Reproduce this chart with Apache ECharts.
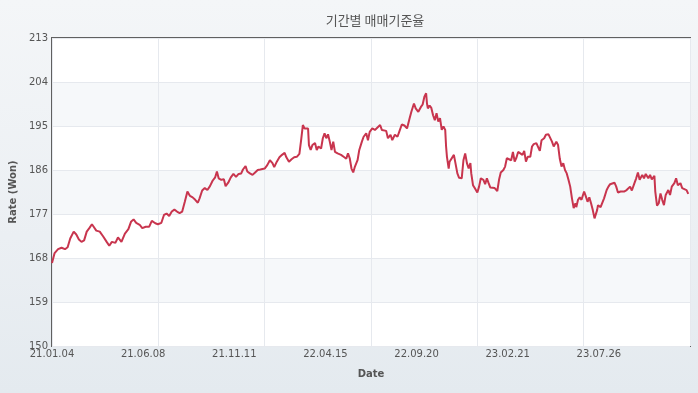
<!DOCTYPE html>
<html>
<head>
<meta charset="utf-8">
<script src="https://cdn.jsdelivr.net/npm/echarts@6/dist/echarts.min.js"></script>
<style>
html,body{margin:0;padding:0;}
body{background:linear-gradient(180deg,#f4f6f8 0%,#ebeff3 60%,#e4eaef 100%);}
#c{width:698px;height:393px;}
</style>
</head>
<body>
<div id="c"></div>
<script>
// Trading-day index (from 21.01.04) and exchange rate readings
var dayIndex = [0,3,7,11,15,18,21,25,28,31,34,37,40,43,46,48,51,55,59,63,66,69,73,76,80,84,88,91,94,97,101,104,108,112,115,119,122,126,129,132,135,138,141,144,147,150,153,156,159,162,165,168,170,173,176,179,182,185,188,190,192,195,198,200,203,206,209,212,215,218,220,223,225,228,231,234,237,240,242,245,248,251,254,256,259,262,265,268,270,273,276,279,282,285,287,289,291,293,295,296,298,300,303,305,307,310,312,314,316,318,320,322,324,326,329,331,333,336,339,341,343,345,347,349,352,354,357,359,362,364,366,369,372,375,378,380,382,385,387,390,392,395,398,400,403,406,409,412,414,417,419,422,425,427,429,431,432,433,435,437,439,441,443,445,447,449,451,453,454,455,457,458,460,463,465,467,469,472,474,476,478,480,482,483,485,487,490,492,494,497,499,501,503,505,507,510,512,513,515,517,520,522,524,526,529,531,533,535,537,539,542,544,546,548,551,553,555,558,560,562,564,567,569,572,574,576,578,581,583,585,587,589,591,593,595,597,599,601,603,604,606,608,610,613,615,617,619,621,623,625,626,628,629,632,634,636,639,641,643,645,648,650,652,655,657,659,662,664,666,668,671,673,675,677,680,682,684,687,689,691,694,695,697,699,701,703,705,707,710,712,714,717,719,721,724,726,728,731,733];
var rate = [167.0,169.0,169.8,170.1,169.8,170.2,172.0,173.4,172.8,171.8,171.3,171.6,173.4,174.1,174.9,174.4,173.6,173.4,172.4,171.3,170.5,171.3,171.1,172.2,171.3,173.0,173.9,175.4,175.9,175.2,174.8,174.1,174.4,174.4,175.6,175.1,174.9,175.2,176.8,177.1,176.6,177.5,177.9,177.5,177.2,177.5,179.5,181.6,180.7,180.4,179.9,179.3,180.2,181.8,182.3,181.9,182.7,183.8,184.5,185.7,184.3,184.0,184.1,182.7,183.4,184.5,185.2,184.6,185.2,185.3,186.1,186.8,185.7,185.3,185.0,185.5,186.0,186.1,185.9,186.3,187.0,188.0,187.4,186.6,187.7,188.6,189.1,189.5,188.6,187.7,188.2,188.6,188.7,189.3,192.1,195.2,194.5,194.9,194.5,191.1,190.1,191.1,191.5,190.1,190.8,190.4,192.5,193.5,192.5,193.3,191.8,190.1,191.8,189.7,189.4,189.7,189.1,188.7,188.3,189.4,188.4,186.3,185.5,186.7,188.0,190.1,191.8,192.8,193.5,192.1,193.8,194.5,194.2,194.7,195.2,194.2,193.8,194.0,192.5,193.2,192.1,193.2,192.8,193.8,195.3,195.1,194.5,196.6,197.9,199.6,198.6,197.9,198.9,199.4,201.0,201.7,199.6,198.6,199.2,198.7,197.2,196.2,197.6,195.9,196.6,194.2,194.9,194.2,190.8,188.7,186.3,187.7,187.4,189.1,188.9,185.3,184.4,184.3,188.0,189.4,187.4,186.3,187.4,185.3,182.9,182.3,181.4,182.6,184.3,184.0,183.1,184.3,183.3,182.4,182.1,182.3,181.9,181.7,184.0,185.5,186.0,186.7,188.4,188.7,188.0,189.7,187.7,188.5,189.7,190.1,189.1,189.9,187.7,188.7,188.7,190.8,191.3,191.5,191.9,189.9,192.1,192.5,193.2,193.3,193.0,191.8,190.8,191.8,191.1,188.3,186.7,187.4,186.0,185.3,184.0,182.6,180.2,178.2,179.2,178.4,179.9,180.4,179.9,181.6,180.6,179.5,180.4,179.2,177.8,176.1,175.8,177.8,178.8,178.4,178.8,180.2,181.9,182.6,183.1,183.3,183.4,182.6,181.4,181.6,181.9,181.6,181.9,181.6,182.6,181.8,183.3,184.3,185.5,184.0,185.0,184.3,185.2,184.3,185.0,184.1,184.8,181.6,178.7,179.2,181.2,179.9,178.8,180.9,181.9,180.9,182.6,183.3,184.3,182.9,183.3,182.3,182.6,181.9,181.1];
var tickLabels = ['21.01.04','21.06.08','21.11.11','22.04.15','22.09.20','23.02.21','23.07.26'];
var labelStep = 105;
var totalDays = 735;
var yMin = 150, yMax = 213, yStep = 9;

var seriesData = dayIndex.map(function(d,i){return [d, rate[i]];});

var chart = echarts.init(document.getElementById('c'), null, {renderer:'canvas'});
chart.setOption({
  backgroundColor: 'transparent',
  animation: false,
  title: {
    text: '기간별 매매기준율',
    left: 370, top: 9, textAlign: 'center',
    textStyle: {fontFamily: 'Noto Sans CJK KR', fontSize: 13, fontWeight: 'normal', color: '#555'}
  },
  grid: {
    left: 52, right: 8, top: 38, bottom: 47,
    show: true, backgroundColor: '#ffffff', borderColor: '#606060', borderWidth: 2
  },
  xAxis: [{
    type: 'value', min: 0, max: totalDays, interval: labelStep,
    name: 'Date', nameLocation: 'middle', nameGap: 23,
    nameTextStyle: {fontFamily: 'DejaVu Sans', fontSize: 10, fontWeight: 'bold', color: '#555'},
    axisLine: {show: false}, axisTick: {show: false}, splitLine: {show: false},
    axisLabel: {
      fontFamily: 'DejaVu Sans', fontSize: 10, color: '#555', margin: 3,
      showMaxLabel: false,
      formatter: function(v){ var k = Math.round(v/labelStep); return tickLabels[k] || ''; }
    }
  },{
    type: 'value', min: 0, max: totalDays, interval: totalDays/6,
    axisLine: {show: false}, axisTick: {show: false}, axisLabel: {show: false},
    splitLine: {show: true, lineStyle: {color: '#e6e9ee', width: 1}}
  }],
  yAxis: {
    type: 'value', min: yMin, max: yMax, interval: yStep,
    name: 'Rate (Won)', nameLocation: 'middle', nameGap: 28, nameRotate: 90,
    nameTextStyle: {fontFamily: 'DejaVu Sans', fontSize: 10, fontWeight: 'bold', color: '#555'},
    axisLine: {show: false}, axisTick: {show: false},
    axisLabel: {fontFamily: 'DejaVu Sans', fontSize: 10, color: '#555', margin: 4},
    splitLine: {show: true, lineStyle: {color: '#e6e9ee', width: 1}},
    splitArea: {show: true, areaStyle: {color: ['#ffffff', '#f6f8fa']}}
  },
  series: [{
    type: 'line', data: seriesData, xAxisIndex: 0,
    showSymbol: false, symbol: 'none',
    lineStyle: {color: '#c8354e', width: 2},
    z: 5
  }]
});
</script>
</body>
</html>
